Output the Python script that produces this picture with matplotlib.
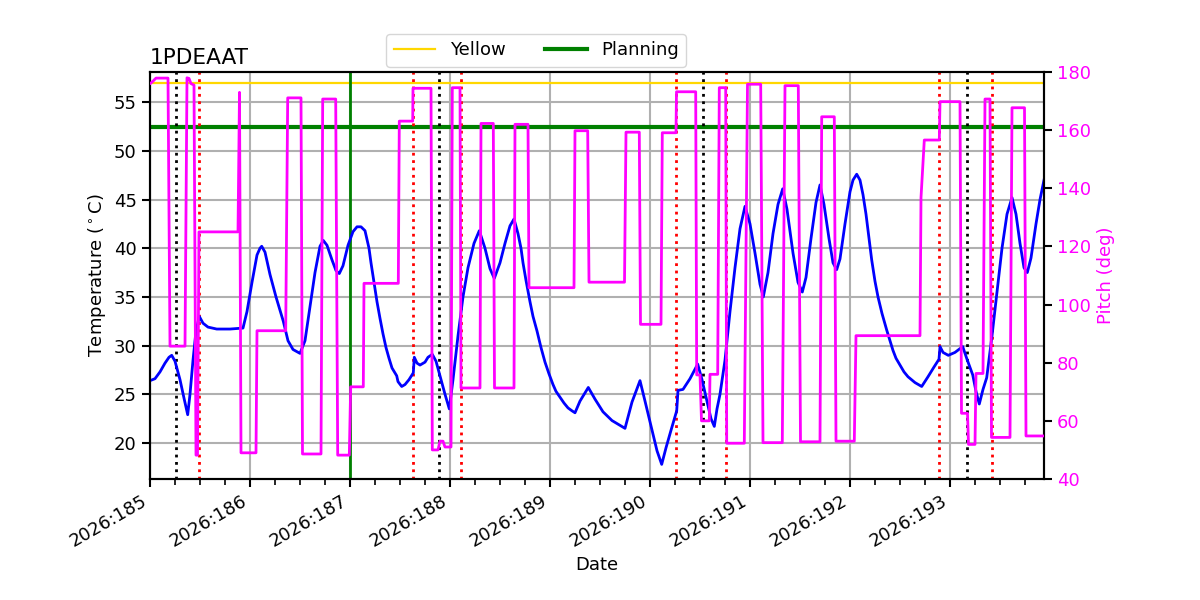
import matplotlib
matplotlib.use("Agg")
import matplotlib.pyplot as plt
from matplotlib.ticker import MultipleLocator, FuncFormatter

plt.rcParams['font.size'] = 13

# ---- data (day of year 2026, fractional) ----
temp_days = [185.000, 185.050, 185.100, 185.150, 185.190, 185.217, 185.250, 185.300, 185.340, 185.377,
             185.400, 185.430, 185.460, 185.493, 185.530, 185.580, 185.667, 185.800, 185.930,
             185.970, 186.020, 186.070, 186.100, 186.117, 186.150, 186.200, 186.260, 186.333, 186.380,
             186.430, 186.500, 186.550, 186.600, 186.650, 186.700, 186.733, 186.770, 186.820,
             186.860, 186.893, 186.930, 186.980, 187.030, 187.070, 187.110, 187.150, 187.190,
             187.210, 187.240, 187.270, 187.300, 187.330, 187.360, 187.390, 187.420, 187.467,
             187.480, 187.517, 187.550, 187.590,
             187.633, 187.643, 187.670, 187.700, 187.750, 187.780, 187.823, 187.860, 187.900,
             187.950, 187.993, 188.030, 188.080, 188.130, 188.180, 188.240, 188.293, 188.350,
             188.400, 188.443, 188.500, 188.550, 188.600, 188.640, 188.680, 188.710, 188.730,
             188.760, 188.800, 188.830, 188.870, 188.910, 188.950, 188.990, 189.030, 189.060,
             189.100, 189.140, 189.180, 189.220, 189.250, 189.300, 189.383, 189.450,
             189.530, 189.620, 189.750, 189.820, 189.900, 189.950, 190.020, 190.070, 190.117,
             190.160, 190.210, 190.267, 190.280, 190.330, 190.400, 190.477, 190.520, 190.570,
             190.610, 190.643, 190.670, 190.700, 190.750, 190.800, 190.850, 190.900, 190.950,
             191.000, 191.050, 191.100, 191.133, 191.180, 191.230, 191.280, 191.327, 191.370,
             191.430, 191.480, 191.523, 191.560, 191.610, 191.660, 191.700, 191.740, 191.790,
             191.830, 191.867, 191.900, 191.950, 192.000, 192.030, 192.067, 192.100, 192.130,
             192.160, 192.190, 192.217, 192.250, 192.280, 192.320, 192.367, 192.400, 192.430,
             192.460, 192.500, 192.540, 192.580, 192.650, 192.717, 192.780,
             192.840, 192.890, 192.900, 192.930, 192.983, 193.050, 193.127, 193.170, 193.227,
             193.260, 193.293, 193.330, 193.367, 193.420, 193.470, 193.520, 193.570, 193.620,
             193.660, 193.700, 193.740, 193.773, 193.810, 193.860, 193.900, 193.940]
temp_vals = [26.4, 26.6, 27.3, 28.2, 28.8, 29.0, 28.4, 26.5, 24.6, 22.9,
             25.0, 28.5, 31.5, 33.0, 32.3, 31.9, 31.7, 31.7, 31.8,
             33.5, 36.5, 39.3, 40.0, 40.2, 39.6, 37.3, 35.0, 32.5, 30.5,
             29.6, 29.2, 30.5, 34.0, 37.5, 40.2, 40.8, 40.3, 38.8,
             37.7, 37.4, 38.2, 40.3, 41.7, 42.2, 42.2, 41.8, 40.0,
             38.5, 36.5, 34.5, 32.8, 31.2, 29.8, 28.7, 27.7, 26.9,
             26.3, 25.8, 26.0, 26.5,
             27.2, 28.8, 28.2, 28.0, 28.3, 28.8, 29.1, 28.4, 26.9,
             25.0, 23.5, 26.5, 31.0, 35.0, 38.0, 40.5, 41.8, 40.0,
             37.9, 36.9, 38.5, 40.5, 42.3, 43.0, 41.5, 40.0, 38.5,
             36.7, 34.5, 33.0, 31.5, 29.8, 28.3, 27.1, 26.0, 25.3,
             24.7, 24.1, 23.6, 23.3, 23.1, 24.3, 25.7, 24.5,
             23.2, 22.3, 21.5, 24.2, 26.4, 24.3, 21.3, 19.2, 17.8,
             19.5, 21.3, 23.3, 25.4, 25.5, 26.6, 28.1, 26.5, 24.3,
             22.5, 21.7, 23.5, 25.0, 28.5, 33.5, 38.0, 42.0, 44.3,
             42.5, 39.5, 36.3, 35.0, 37.5, 41.5, 44.5, 46.1, 44.0,
             39.5, 36.5, 35.5, 37.0, 41.0, 44.7, 46.5, 44.5, 41.0,
             38.5, 37.8, 38.9, 42.5, 45.8, 47.0, 47.6, 47.0, 45.5,
             43.5, 41.0, 38.8, 36.6, 35.0, 33.3, 31.6, 30.5, 29.5,
             28.7, 28.0, 27.3, 26.8, 26.2, 25.8, 26.8,
             27.8, 28.6, 29.9, 29.3, 29.0, 29.3, 29.9, 28.6, 27.0,
             25.3, 24.0, 25.5, 26.7, 31.0, 35.5, 40.0, 43.5, 45.2,
             43.5, 40.5, 38.0, 37.5, 39.0, 42.5, 45.0, 47.0]

pitch_days = [185.000, 185.020, 185.060, 185.180, 185.200, 185.350, 185.370, 185.390, 185.410,
              185.440, 185.460, 185.475, 185.490, 185.880, 185.895, 185.910, 186.060, 186.070,
              186.357, 186.377, 186.510, 186.525, 186.710, 186.727, 186.857, 186.877, 186.993,
              187.007, 187.133, 187.140, 187.483, 187.493, 187.627, 187.630, 187.810, 187.823,
              187.880, 187.900, 187.930, 187.950, 188.010, 188.023, 188.100, 188.110, 188.300,
              188.310, 188.433, 188.445, 188.640, 188.650, 188.780, 188.790, 189.240, 189.250,
              189.377, 189.390, 189.745, 189.760, 189.893, 189.905, 190.110, 190.123, 190.260,
              190.265, 190.457, 190.467, 190.500, 190.515, 190.593, 190.600, 190.677, 190.693,
              190.757, 190.767, 190.943, 190.975, 191.107, 191.130, 191.323, 191.350, 191.483,
              191.505, 191.700, 191.717, 191.843, 191.860, 192.043, 192.060, 192.700, 192.710,
              192.743, 192.893, 192.900, 193.100, 193.115, 193.175, 193.185, 193.250, 193.260,
              193.330, 193.350, 193.400, 193.415, 193.600, 193.620, 193.745, 193.760, 193.940]
pitch_vals = [176.0, 176.5, 177.9, 177.9, 85.7, 85.7, 178.0, 177.8, 176.0,
              175.5, 48.2, 48.2, 125.0, 125.0, 173.0, 49.0, 49.0, 91.0,
              91.0, 171.1, 171.1, 48.6, 48.6, 170.7, 170.7, 48.2, 48.2,
              71.7, 71.7, 107.3, 107.3, 163.1, 163.1, 174.4, 174.4, 50.0,
              50.0, 53.0, 53.0, 51.0, 51.0, 174.6, 174.6, 71.3, 71.3,
              162.3, 162.3, 71.3, 71.3, 162.0, 162.0, 105.8, 105.8, 159.8,
              159.8, 107.7, 107.7, 159.3, 159.3, 93.2, 93.2, 159.1, 159.1,
              173.2, 173.2, 75.8, 75.8, 60.0, 60.0, 76.0, 76.0, 174.6,
              174.6, 52.3, 52.3, 175.8, 175.8, 52.5, 52.5, 175.3, 175.3,
              52.8, 52.8, 164.6, 164.6, 53.0, 53.0, 89.3, 89.3, 136.8,
              156.6, 156.6, 169.8, 169.8, 62.6, 62.6, 51.9, 51.9, 76.3,
              76.3, 170.7, 170.7, 54.3, 54.3, 167.7, 167.7, 54.8, 54.8]

yellow_limit = 57.0
planning_limit = 52.5
planning_day = 187.0
black_events = [185.255, 187.893, 190.533, 193.173]
red_events = [185.493, 187.627, 188.110, 190.260, 190.760, 192.893, 193.417]

x_min, x_max = 185.0, 193.94
temp_lim = (16.3, 58.1)
pitch_lim = (40, 180)

# ---- figure ----
fig = plt.figure(figsize=(12, 6), dpi=100)
ax = fig.add_axes([0.125, 0.2017, 0.745, 0.6783])
ax2 = ax.twinx()

ax.plot(temp_days, temp_vals, color='blue', lw=2, zorder=3)
ax2.plot(pitch_days, pitch_vals, color='magenta', lw=2, zorder=3)

ax.axhline(yellow_limit, color='gold', lw=1.6, label='Yellow')
ax.axhline(planning_limit, color='green', lw=3, label='Planning')
ax.axvline(planning_day, color='green', lw=2)
for d in black_events:
    ax.axvline(d, color='black', ls=':', lw=2)
for d in red_events:
    ax.axvline(d, color='red', ls=':', lw=2)

ax.set_xlim(x_min, x_max)
ax.set_ylim(*temp_lim)
ax2.set_ylim(*pitch_lim)
ax2.set_xlim(x_min, x_max)

ax.xaxis.set_major_locator(MultipleLocator(1))
ax.xaxis.set_minor_locator(MultipleLocator(0.25))
ax.xaxis.set_major_formatter(FuncFormatter(lambda v, p: f"2026:{int(round(v))}"))
plt.setp(ax.get_xticklabels(), rotation=30, ha='right')
ax.tick_params(axis='x', which='major', length=6, width=1.5)
ax.tick_params(axis='x', which='minor', length=4, width=1.2)
ax.tick_params(axis='y', length=6, width=1.5)

ax.set_yticks([20, 25, 30, 35, 40, 45, 50, 55])
ax2.set_yticks([40, 60, 80, 100, 120, 140, 160, 180])
ax2.tick_params(axis='y', colors='black', labelcolor='magenta', length=6, width=1.5)
ax2.set_ylabel('Pitch (deg)', color='magenta')

ax.grid(True, which='major', color='#b0b0b0', lw=1.5)
ax.set_axisbelow(True)
for sp in list(ax.spines.values()) + list(ax2.spines.values()):
    sp.set_linewidth(1.5)

ax.set_xlabel('Date')
ax.set_ylabel(r'Temperature ($^\circ$C)')
ax.set_title('1PDEAAT', loc='left', fontsize=15.6)

ax.legend(loc='upper center', bbox_to_anchor=(0.432, 1.115), ncol=2, fontsize=13,
          handlelength=2.3, columnspacing=2.2)

fig.savefig('out.png', dpi=100)
